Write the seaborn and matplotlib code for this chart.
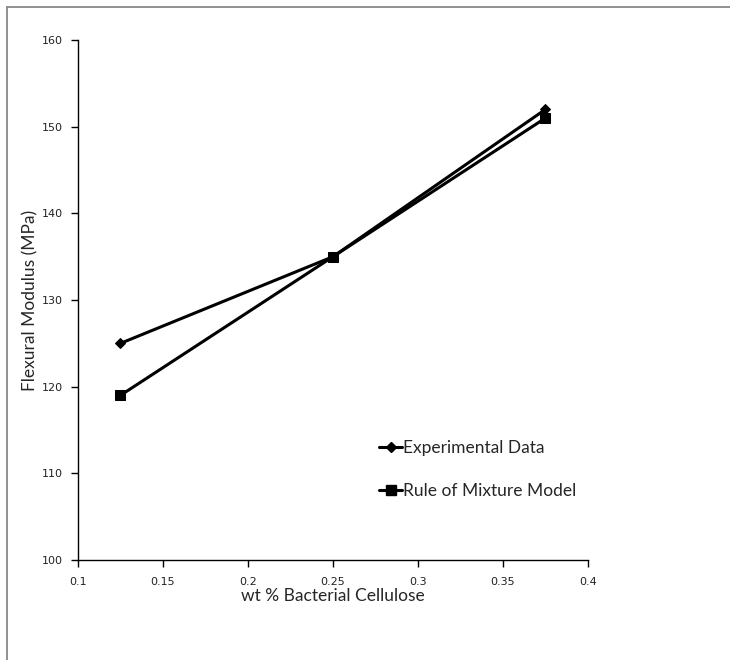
import matplotlib
matplotlib.use("Agg")
import matplotlib.pyplot as plt
import seaborn as sns
import pandas as pd
from matplotlib.lines import Line2D

wt = [0.125, 0.25, 0.375]
experimental = [125, 135, 152]
rule_of_mixture = [119, 135, 151]
series_names = ["Experimental Data", "Rule of Mixture Model"]
x_ticks = [0.1, 0.15, 0.2, 0.25, 0.3, 0.35, 0.4]
y_ticks = [100, 110, 120, 130, 140, 150, 160]

df = pd.DataFrame({
    "wt": wt * 2,
    "mod": experimental + rule_of_mixture,
    "series": [series_names[0]] * 3 + [series_names[1]] * 3,
})

sns.set_style("white")
plt.rcParams['font.family'] = ['Lato', 'DejaVu Sans']

fig = plt.figure(figsize=(7.3, 6.6), dpi=100)
ax = fig.add_axes([78/730, 100/660, 510/730, 520/660])

sns.lineplot(data=df, x="wt", y="mod", hue="series", style="series",
             palette={series_names[0]: "black", series_names[1]: "black"},
             markers={series_names[0]: "D", series_names[1]: "s"},
             dashes=False, linewidth=2.2, markersize=7, ax=ax, legend=False)
for ln, ms in zip(ax.lines, [5.5, 7.5]):
    ln.set_markersize(ms)
    ln.set_markeredgecolor("black")

ax.set_xlim(0.1, 0.4)
ax.set_ylim(100, 160)
ax.set_xticks(x_ticks)
ax.set_xticklabels([f"{v:g}" for v in x_ticks], fontsize=8, family="DejaVu Sans")
ax.set_yticks(y_ticks)
ax.set_yticklabels([str(v) for v in y_ticks], fontsize=8, family="DejaVu Sans")
ax.tick_params(axis="both", direction="out", length=5, width=1, color="black",
               bottom=True, left=True, labelcolor="#222222")
ax.tick_params(axis="x", pad=7)
ax.tick_params(axis="y", pad=6)
for s in ["top", "right"]:
    ax.spines[s].set_visible(False)
for s in ["left", "bottom"]:
    ax.spines[s].set_color("black")
    ax.spines[s].set_linewidth(1)

ax.set_xlabel("wt % Bacterial Cellulose", fontsize=12.5, labelpad=1)
ax.set_ylabel("Flexural Modulus (MPa)", fontsize=12.5)
ax.yaxis.set_label_coords(-0.078, 0.5)

handles = [
    Line2D([], [], color="black", lw=2.2, marker="D", markersize=5.5),
    Line2D([], [], color="black", lw=2.2, marker="s", markersize=7.5),
]
ax.legend(handles, series_names, loc="upper left", bbox_to_anchor=(0.56, 0.26),
          frameon=False, fontsize=12.5, handlelength=1.3, handletextpad=0.05,
          labelspacing=1.55)

# chart area border (top and left visible)
fig.add_artist(Line2D([7/730, 1], [1 - 7/660, 1 - 7/660], color="#888888", lw=1.3,
                      transform=fig.transFigure))
fig.add_artist(Line2D([7/730, 7/730], [0, 1 - 7/660], color="#888888", lw=1.3,
                      transform=fig.transFigure))

fig.savefig("out.png", dpi=100)
